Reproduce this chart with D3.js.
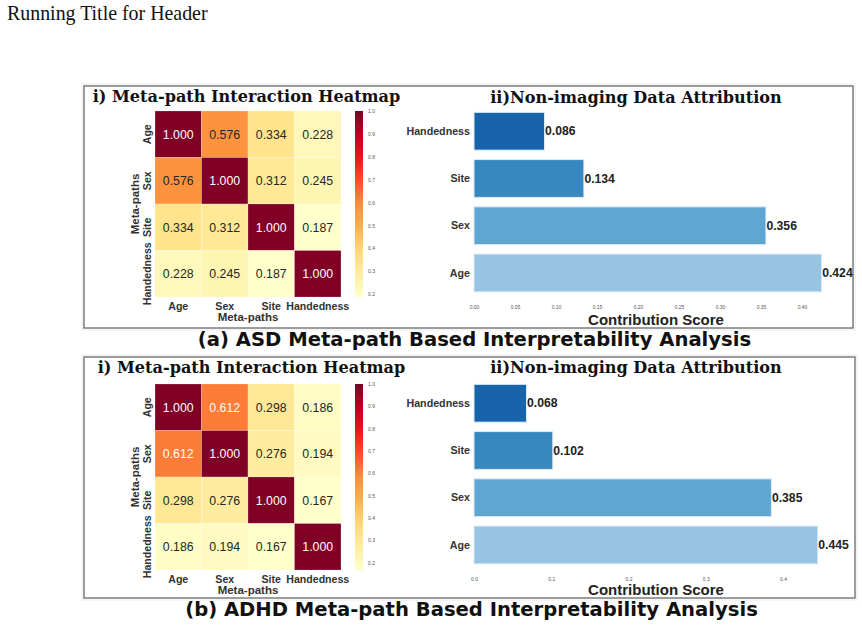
<!DOCTYPE html>
<html>
<head>
<meta charset="utf-8">
<script src="https://cdn.jsdelivr.net/npm/d3@7"></script>
<style>
  body { margin: 0; background: #fff; }
  text { font-family: "Liberation Sans", Arial, sans-serif; }
</style>
</head>
<body>
<svg id="fig" width="862" height="629"></svg>
<script>
// ---- data ----
var metaPaths = ["Age", "Sex", "Site", "Handedness"];
var asdInteraction = [
  [1.000, 0.576, 0.334, 0.228],
  [0.576, 1.000, 0.312, 0.245],
  [0.334, 0.312, 1.000, 0.187],
  [0.228, 0.245, 0.187, 1.000]
];
var adhdInteraction = [
  [1.000, 0.612, 0.298, 0.186],
  [0.612, 1.000, 0.276, 0.194],
  [0.298, 0.276, 1.000, 0.167],
  [0.186, 0.194, 0.167, 1.000]
];
var barOrder = ["Handedness", "Site", "Sex", "Age"];
var asdScores = [0.086, 0.134, 0.356, 0.424];
var adhdScores = [0.068, 0.102, 0.385, 0.445];
var barColors = ["#1764ab", "#3787c0", "#60a6d2", "#97c4e2"];
var colorbarTicks = [0.2, 0.3, 0.4, 0.5, 0.6, 0.7, 0.8, 0.9, 1.0];
var asdScoreTicks = [0, 0.05, 0.10, 0.15, 0.20, 0.25, 0.30, 0.35, 0.40];
var adhdScoreTicks = [0, 0.1, 0.2, 0.3, 0.4];
var ylorrd = ["#ffffcc", "#ffeda0", "#fed976", "#feb24c", "#fd8d3c",
              "#fc4e2a", "#e31a1c", "#bd0026", "#800026"];

var svg = d3.select('#fig');

function luminance(c) {
  var rgb = d3.rgb(c);
  var lin = v => { v /= 255; return v <= 0.03928 ? v / 12.92 : Math.pow((v + 0.055) / 1.055, 2.4); };
  return 0.2126 * lin(rgb.r) + 0.7152 * lin(rgb.g) + 0.0722 * lin(rgb.b);
}

function drawPanel(x0, y0, x1, y1) {
  svg.append('rect')
    .attr('x', x0 - 3).attr('y', y0 - 3)
    .attr('width', x1 - x0 + 6).attr('height', y1 - y0 + 6)
    .attr('fill', '#f5f5f5');
  svg.append('rect')
    .attr('x', x0).attr('y', y0)
    .attr('width', x1 - x0).attr('height', y1 - y0)
    .attr('fill', '#fff')
    .attr('stroke', '#6a6a6a')
    .attr('stroke-width', 1.3);
}

function serifTitle(x, y, label) {
  svg.append('text')
    .attr('x', x).attr('y', y)
    .attr('text-anchor', 'middle')
    .style('font-family', '"DejaVu Serif", serif')
    .style('font-size', '16.1px').style('font-weight', 'bold').attr('fill', '#111')
    .text(label);
}

function caption(x, y, label) {
  svg.append('text')
    .attr('x', x).attr('y', y)
    .attr('text-anchor', 'middle')
    .style('font-family', '"DejaVu Sans", Verdana, sans-serif')
    .style('font-size', '19.6px').style('font-weight', 'bold').attr('fill', '#111')
    .text(label);
}

function drawHeatmap(matrix, top, id) {
  var g = svg.append('g');
  var size = 186;
  var x = d3.scaleBand().domain(metaPaths).range([155, 155 + size]);
  var y = d3.scaleBand().domain(metaPaths).range([top, top + size]);
  var vmin = d3.min(matrix.flat());
  var color = d3.scaleLinear()
    .domain(ylorrd.map((c, i) => vmin + (1 - vmin) * i / (ylorrd.length - 1)))
    .range(ylorrd)
    .interpolate(d3.interpolateRgb);

  var cells = [];
  matrix.forEach((row, i) => row.forEach((v, j) => cells.push({r: metaPaths[i], c: metaPaths[j], v: v})));

  g.selectAll('rect.cell')
    .data(cells).enter()
    .append('rect')
      .attr('class', 'cell')
      .attr('x', d => x(d.c))
      .attr('y', d => y(d.r))
      .attr('width', x.bandwidth())
      .attr('height', y.bandwidth())
      .attr('fill', d => color(d.v))
      .attr('stroke', '#fff')
      .attr('stroke-opacity', 0.4)
      .attr('stroke-width', 0.5);
  g.selectAll('text.val')
    .data(cells).enter()
    .append('text')
      .attr('class', 'val')
      .attr('x', d => x(d.c) + x.bandwidth() / 2)
      .attr('y', d => y(d.r) + y.bandwidth() / 2)
      .attr('dy', '0.36em')
      .attr('text-anchor', 'middle')
      .style('font-size', '12.3px')
      .attr('fill', d => luminance(color(d.v)) < 0.408 ? '#ffffff' : '#262626')
      .text(d => d3.format('.3f')(d.v));

  // axes
  var xAxis = g.append('g')
    .attr('transform', 'translate(0,' + (top + size) + ')')
    .call(d3.axisBottom(x).tickSize(0).tickPadding(5));
  xAxis.select('.domain').remove();
  xAxis.selectAll('text')
    .style('font-size', '10.6px').style('font-weight', 'bold').attr('fill', '#333');

  var yAxis = g.append('g')
    .attr('transform', 'translate(155,0)')
    .call(d3.axisLeft(y).tickSize(0));
  yAxis.select('.domain').remove();
  yAxis.selectAll('text')
    .attr('transform', 'rotate(-90)')
    .attr('x', 0).attr('y', -4).attr('dy', 0)
    .style('text-anchor', 'middle')
    .style('font-size', '10.6px').style('font-weight', 'bold').attr('fill', '#333');

  g.append('text')
    .attr('x', 248).attr('y', top + size + 24)
    .attr('text-anchor', 'middle')
    .style('font-size', '11.5px').style('font-weight', 'bold').attr('fill', '#333')
    .text('Meta-paths');
  g.append('text')
    .attr('transform', 'translate(139,' + (top + size / 2) + ') rotate(-90)')
    .attr('text-anchor', 'middle')
    .style('font-size', '11.5px').style('font-weight', 'bold').attr('fill', '#333')
    .text('Meta-paths');

  // colorbar
  var grad = svg.append('defs').append('linearGradient')
    .attr('id', id).attr('x1', 0).attr('y1', 1).attr('x2', 0).attr('y2', 0);
  grad.selectAll('stop')
    .data(ylorrd).enter()
    .append('stop')
      .attr('offset', (d, i) => i / (ylorrd.length - 1))
      .attr('stop-color', d => d);
  g.append('rect')
    .attr('x', 355).attr('y', top)
    .attr('width', 8).attr('height', size)
    .attr('fill', 'url(#' + id + ')');
  var cb = d3.scaleLinear().domain([vmin, 1]).range([top + size, top]);
  var cbAxis = g.append('g')
    .attr('transform', 'translate(363,0)')
    .call(d3.axisRight(cb).tickValues(colorbarTicks).tickFormat(d3.format('.1f')).tickSize(0).tickPadding(5));
  cbAxis.select('.domain').remove();
  cbAxis.selectAll('text').style('font-size', '5px').attr('fill', '#555');
}

function drawBars(scores, ticks, fmt, top, x04, labelY) {
  var g = svg.append('g');
  var x = d3.scaleLinear().domain([0, 0.4]).range([474, x04]);
  var y = d3.scaleBand().domain(barOrder).range([top, top + 189])
    .paddingInner(0.2).paddingOuter(0.1);
  var rows = barOrder.map((k, i) => ({k: k, v: scores[i], c: barColors[i]}));

  g.selectAll('rect.bar')
    .data(rows).enter()
    .append('rect')
      .attr('class', 'bar')
      .attr('x', x(0))
      .attr('y', d => y(d.k))
      .attr('width', d => x(d.v) - x(0))
      .attr('height', y.bandwidth())
      .attr('fill', d => d.c)
      .attr('stroke', '#dcebf6')
      .attr('stroke-width', 1);
  g.selectAll('text.num')
    .data(rows).enter()
    .append('text')
      .attr('class', 'num')
      .attr('x', d => x(d.v) + 0.5)
      .attr('y', d => y(d.k) + y.bandwidth() / 2)
      .attr('dy', '0.35em')
      .style('font-size', '12.2px').style('font-weight', 'bold').attr('fill', '#222')
      .text(d => d3.format('.3f')(d.v));
  g.selectAll('text.cat')
    .data(rows).enter()
    .append('text')
      .attr('class', 'cat')
      .attr('x', 470)
      .attr('y', d => y(d.k) + y.bandwidth() / 2)
      .attr('dy', '0.35em')
      .attr('text-anchor', 'end')
      .style('font-size', '10.7px').style('font-weight', 'bold').attr('fill', '#333')
      .text(d => d.k);

  var xAxis = g.append('g')
    .attr('transform', 'translate(0,' + (top + 196) + ')')
    .call(d3.axisBottom(x).tickValues(ticks).tickFormat(d3.format(fmt)).tickSize(0).tickPadding(2));
  xAxis.select('.domain').remove();
  xAxis.selectAll('text').style('font-size', '5px').attr('fill', '#555');

  g.append('text')
    .attr('x', 656).attr('y', labelY)
    .attr('text-anchor', 'middle')
    .style('font-size', '15px').style('font-weight', 'bold').attr('fill', '#222')
    .text('Contribution Score');
}

// header
svg.append('text')
  .attr('x', 7).attr('y', 20)
  .style('font-family', '"Liberation Serif", "Times New Roman", serif')
  .style('font-size', '19.9px').attr('fill', '#111')
  .text('Running Title for Header');

// panel (a)
drawPanel(84, 86, 853, 328);
serifTitle(246.5, 102, 'i) Meta-path Interaction Heatmap');
serifTitle(636, 103, 'ii)Non-imaging Data Attribution');
drawHeatmap(asdInteraction, 111, 'cbA');
drawBars(asdScores, asdScoreTicks, '.2f', 107.6, 802, 324.5);
caption(474.5, 346, '(a) ASD Meta-path Based Interpretability Analysis');

// panel (b)
drawPanel(84, 357, 855, 598);
serifTitle(251.5, 373, 'i) Meta-path Interaction Heatmap');
serifTitle(636, 373, 'ii)Non-imaging Data Attribution');
drawHeatmap(adhdInteraction, 384, 'cbB');
drawBars(adhdScores, adhdScoreTicks, '.1f', 379.6, 783, 594.5);
caption(471.5, 616, '(b) ADHD Meta-path Based Interpretability Analysis');
</script>
</body>
</html>
